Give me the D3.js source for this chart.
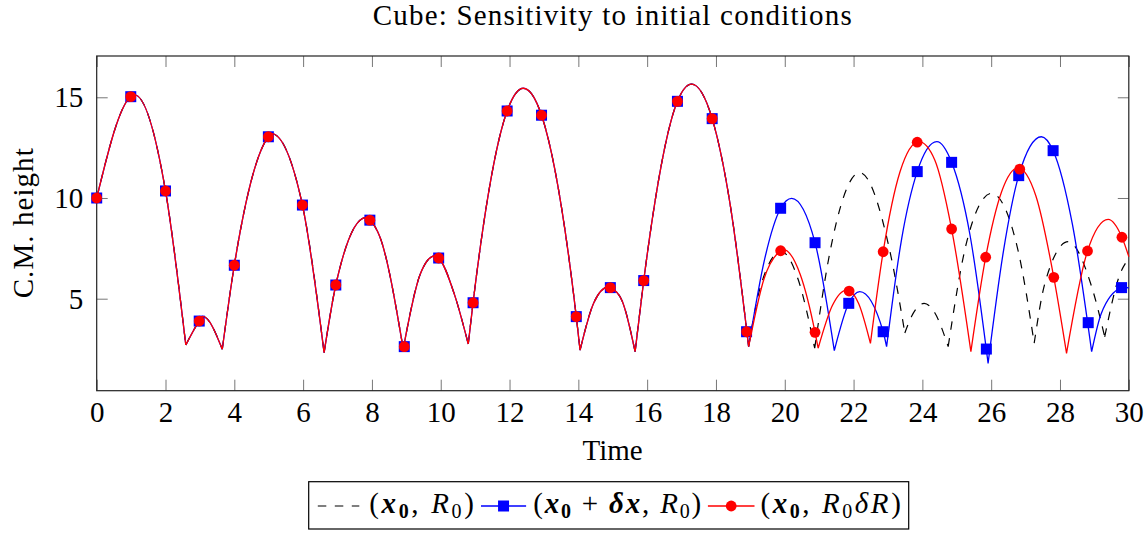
<!DOCTYPE html>
<html>
<head>
<meta charset="utf-8">
<script src="https://cdn.jsdelivr.net/npm/d3@7"></script>
<style>
  body { margin: 0; background: #fff; }
  svg text { font-family: "Liberation Serif", "DejaVu Serif", serif; fill: #000; white-space: pre; }
</style>
</head>
<body>
<script>
// ticks
var xTicks = [0, 2, 4, 6, 8, 10, 12, 14, 16, 18, 20, 22, 24, 26, 28, 30];
var yTicks = [5, 10, 15];

// arcs (bounce to bounce), [time, height] - same for all three runs up to t~19
var commonArcs = [
  [[0, 10.0], [0.99, 15.03], [1.1, 15.12], [2.0, 10.35], [2.59, 2.7]],
  [[2.59, 2.7], [2.98, 3.89], [3.08, 4.12], [3.65, 2.49]],
  [[3.65, 2.49], [4.0, 6.66], [4.99, 13.04], [5.08, 13.2], [5.98, 9.65], [6.61, 2.32]],
  [[6.61, 2.32], [6.95, 5.68], [7.82, 9.02], [7.94, 8.9], [8.23, 8.08], [8.91, 2.5]],
  [[8.91, 2.5], [9.4, 6.2], [9.82, 7.12], [9.94, 7.02], [10.4, 5.2], [10.8, 2.75]],
  [[10.8, 2.75], [10.94, 4.8], [11.93, 14.32], [12.4, 15.45], [12.93, 14.11], [13.94, 4.11], [14.05, 2.45]],
  [[14.05, 2.45], [14.45, 4.8], [14.87, 5.58], [14.93, 5.55], [15.27, 4.9], [15.65, 2.37]],
  [[15.65, 2.37], [15.9, 5.9], [16.88, 14.8], [17.29, 15.65], [17.89, 13.94], [18.42, 9.6], [18.95, 2.62]]
];

// after the runs split
var dashedArcs = [
  [[18.95, 2.62], [19.27, 5.45], [19.9, 7.35], [20.39, 5.95], [20.87, 2.54]],
  [[20.87, 2.54], [21.3, 7.2], [22.18, 11.26], [23.05, 7.4], [23.49, 3.3]],
  [[23.49, 3.3], [23.68, 4.1], [24.05, 4.77], [24.36, 4.3], [24.75, 2.62]],
  [[24.75, 2.62], [25.3, 7.9], [26.01, 10.23], [26.78, 7.4], [27.25, 2.79]],
  [[27.25, 2.79], [27.56, 5.76], [28.24, 7.83], [28.92, 5.6], [29.3, 3.11]],
  [[29.3, 3.11], [29.74, 6.2], [30, 7.0]]
];
var blueArcs = [
  [[18.95, 2.62], [19.42, 7.0], [19.88, 9.49], [20.2, 9.98], [20.88, 7.78], [21.44, 2.42]],
  [[21.44, 2.42], [21.86, 4.77], [22.18, 5.35], [22.86, 3.36], [22.96, 2.62]],
  [[22.96, 2.62], [23.4, 8.0], [23.85, 11.31], [24.42, 12.8], [24.85, 11.77], [25.38, 8.2], [25.91, 1.79]],
  [[25.91, 1.79], [26.36, 7.4], [26.8, 11.11], [27.46, 13.04], [27.8, 12.35], [28.36, 8.7], [28.92, 2.37]],
  [[28.92, 2.37], [29.2, 4.27], [29.79, 5.55], [29.88, 5.58], [30, 5.52]]
];
var redArcs = [
  [[18.95, 2.62], [19.4, 6.0], [19.88, 7.38], [19.95, 7.45], [20.45, 6.2], [20.88, 3.33], [20.97, 2.54]],
  [[20.97, 2.54], [21.38, 4.65], [21.8, 5.43], [21.87, 5.4], [22.15, 4.75], [22.49, 2.78]],
  [[22.49, 2.78], [22.86, 7.33], [23.35, 11.3], [23.9, 12.8], [24.36, 11.89], [24.85, 8.46], [25.41, 2.37]],
  [[25.41, 2.37], [25.84, 7.06], [26.3, 10.3], [26.78, 11.5], [27.3, 10.1], [27.82, 6.06], [28.19, 2.29]],
  [[28.19, 2.29], [28.8, 7.37], [29.4, 8.94], [29.8, 8.05], [30, 7.09]]
];

// markers
var commonMarks = [[0, 10.0], [0.99, 15.03], [2.0, 10.35], [2.98, 3.89], [4.0, 6.66], [4.99, 13.04],
  [5.98, 9.65], [6.95, 5.68], [7.94, 8.9], [8.94, 2.62], [9.94, 7.02], [10.94, 4.8], [11.93, 14.32],
  [12.93, 14.11], [13.94, 4.11], [14.93, 5.55], [15.9, 5.9], [16.88, 14.8], [17.89, 13.94], [18.89, 3.36]];
var blueMarks = [[19.88, 9.49], [20.88, 7.78], [21.86, 4.77], [22.86, 3.36], [23.85, 11.31], [24.85, 11.77],
  [25.86, 2.5], [26.8, 11.11], [27.8, 12.35], [28.82, 3.81], [29.79, 5.55]];
var redMarks = [[19.88, 7.38], [20.88, 3.33], [21.87, 5.38], [22.86, 7.33], [23.85, 12.77], [24.85, 8.46],
  [25.84, 7.06], [26.83, 11.43], [27.82, 6.06], [28.8, 7.37], [29.8, 8.05]];

// legend text pieces: [text, style]
var legendParts = [
  [['(', ''], ['x', 'bi'], ['0', 'bsub'], [', ', ''], ['R', 'i'], ['0', 'sub'], [')', '']],
  [['(', ''], ['x', 'bi'], ['0', 'bsub'], [' + ', ''], ['\u03b4', 'bi'], ['x', 'bi'], [', ', ''], ['R', 'i'], ['0', 'sub'], [')', '']],
  [['(', ''], ['x', 'bi'], ['0', 'bsub'], [', ', ''], ['R', 'i'], ['0', 'sub'], ['\u03b4', 'i'], ['R', 'i'], [')', '']]
];

var width = 1148, height = 533;
var pLeft = 96.7, pRight = 1128.8, pTop = 56, pBottom = 390.7;

var svg = d3.select('body').append('svg')
  .attr('width', width)
  .attr('height', height);

var x = d3.scaleLinear().domain([0, 30]).range([pLeft, pRight]);
var y = d3.scaleLinear().domain([0.432, 17.05]).range([pBottom, pTop]);

// frame + inward ticks on all sides
function tickStyle(g) {
  g.select('.domain').remove();
  g.selectAll('.tick line').attr('stroke', '#777').attr('stroke-width', 1);
}
function labelStyle(sel) {
  sel.style('font-size', '29px').style('font-family', '"Liberation Serif", serif').attr('fill', '#000');
}
svg.append('g').attr('transform', 'translate(0,' + pBottom + ')')
  .call(d3.axisBottom(x).tickValues(xTicks).tickSize(-11).tickFormat(d3.format('d')))
  .call(tickStyle)
  .call(function(g) { g.selectAll('.tick text').attr('y', 31).attr('dy', 0).call(labelStyle); });
svg.append('g').attr('transform', 'translate(0,' + pTop + ')')
  .call(d3.axisTop(x).tickValues(xTicks).tickSize(-11).tickFormat(''))
  .call(tickStyle);
svg.append('g').attr('transform', 'translate(' + pLeft + ',0)')
  .call(d3.axisLeft(y).tickValues(yTicks).tickSize(-11).tickFormat(d3.format('d')))
  .call(tickStyle)
  .call(function(g) { g.selectAll('.tick text').attr('x', -13.4).attr('dy', 9.6).call(labelStyle); });
svg.append('g').attr('transform', 'translate(' + pRight + ',0)')
  .call(d3.axisRight(y).tickValues(yTicks).tickSize(-11).tickFormat(''))
  .call(tickStyle);

svg.append('rect')
  .attr('x', pLeft).attr('y', pTop)
  .attr('width', pRight - pLeft).attr('height', pBottom - pTop)
  .attr('fill', 'none').attr('stroke', '#222').attr('stroke-width', 1.2);

// title and axis labels
svg.append('text').attr('x', 612.2).attr('y', 25)
  .attr('text-anchor', 'middle').style('font-size', '29px')
  .attr('textLength', 479).attr('lengthAdjust', 'spacing')
  .text('Cube: Sensitivity to initial conditions');
svg.append('text').attr('x', 612.6).attr('y', 460)
  .attr('text-anchor', 'middle').style('font-size', '29px')
  .text('Time');
svg.append('text').attr('transform', 'translate(32.5,223.3) rotate(-90)')
  .attr('text-anchor', 'middle').style('font-size', '29px')
  .attr('textLength', 150).attr('lengthAdjust', 'spacing')
  .text('C.M. height');

// curves
var line = d3.line()
  .x(function(d) { return x(d[0]); })
  .y(function(d) { return y(d[1]); })
  .curve(d3.curveMonotoneX);
function arcsPath(arcs) {
  return arcs.map(function(a) { return line(a); }).join('');
}
var plot = svg.append('g');

plot.append('path').attr('d', arcsPath(commonArcs.concat(dashedArcs)))
  .attr('fill', 'none').attr('stroke', '#000').attr('stroke-width', 1.2)
  .attr('stroke-dasharray', '8.5 8.5');

plot.append('path').attr('d', arcsPath(commonArcs.concat(blueArcs)))
  .attr('fill', 'none').attr('stroke', '#0000ff').attr('stroke-width', 1.3);
var sq = 11;
plot.selectAll('.sq').data(commonMarks.concat(blueMarks)).enter()
  .append('rect').attr('class', 'sq')
  .attr('x', function(d) { return x(d[0]) - sq / 2; })
  .attr('y', function(d) { return y(d[1]) - sq / 2; })
  .attr('width', sq).attr('height', sq)
  .attr('fill', '#0000ff');

plot.append('path').attr('d', arcsPath(commonArcs.concat(redArcs)))
  .attr('fill', 'none').attr('stroke', '#ff0000').attr('stroke-width', 1.3);
plot.selectAll('.dot').data(commonMarks.concat(redMarks)).enter()
  .append('circle').attr('class', 'dot')
  .attr('cx', function(d) { return x(d[0]); })
  .attr('cy', function(d) { return y(d[1]); })
  .attr('r', 5.4)
  .attr('fill', '#ff0000');

// legend
var lg = svg.append('g');
lg.append('rect').attr('x', 308.7).attr('y', 481.7).attr('width', 600).attr('height', 47.3)
  .attr('fill', '#fff').attr('stroke', '#000').attr('stroke-width', 1.2);

var lineY = 506, textY = 512.5;
var samples = [[317.8, 359.3], [481, 526.1], [707.9, 754.5]];
var textX = [369.2, 533.2, 760.5];
var textW = [104.7, 168, 140.3];

lg.append('line').attr('x1', samples[0][0]).attr('x2', samples[0][1]).attr('y1', lineY).attr('y2', lineY)
  .attr('stroke', '#000').attr('stroke-width', 1.2).attr('stroke-dasharray', '8.5 8.5');
lg.append('line').attr('x1', samples[1][0]).attr('x2', samples[1][1]).attr('y1', lineY).attr('y2', lineY)
  .attr('stroke', '#0000ff').attr('stroke-width', 1.3);
lg.append('rect').attr('x', (samples[1][0] + samples[1][1]) / 2 - sq / 2).attr('y', lineY - sq / 2)
  .attr('width', sq).attr('height', sq).attr('fill', '#0000ff');
lg.append('line').attr('x1', samples[2][0]).attr('x2', samples[2][1]).attr('y1', lineY).attr('y2', lineY)
  .attr('stroke', '#ff0000').attr('stroke-width', 1.3);
lg.append('circle').attr('cx', (samples[2][0] + samples[2][1]) / 2).attr('cy', lineY)
  .attr('r', 5.4).attr('fill', '#ff0000');

legendParts.forEach(function(parts, i) {
  var t = lg.append('text').attr('x', textX[i]).attr('y', textY)
    .style('font-size', '29px')
    .attr('textLength', textW[i]).attr('lengthAdjust', 'spacing');
  var shift = 0;
  parts.forEach(function(p) {
    var isSub = p[1] === 'sub' || p[1] === 'bsub';
    var want = isSub ? 5 : 0;
    var ts = t.append('tspan').text(p[0]).attr('dy', want - shift);
    shift = want;
    if (isSub) ts.style('font-size', '20px');
    if (p[1] === 'bi') ts.style('font-weight', 'bold').style('font-style', 'italic');
    if (p[1] === 'i') ts.style('font-style', 'italic');
    if (p[1] === 'bsub') ts.style('font-weight', 'bold');
  });
});
</script>
</body>
</html>
